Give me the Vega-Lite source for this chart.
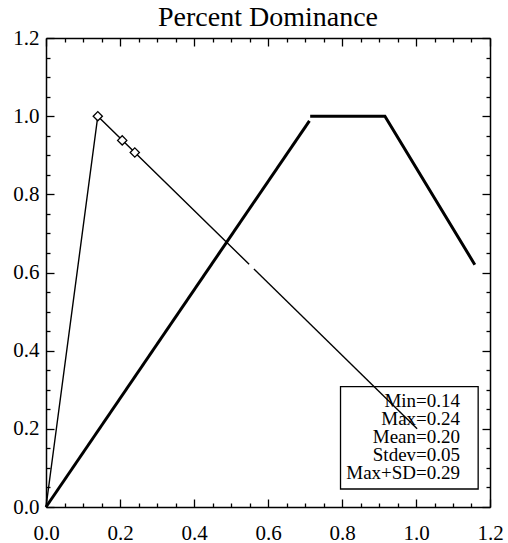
{
  "$schema": "https://vega.github.io/schema/vega-lite/v6.json",
  "autosize": "none",
  "width": 444,
  "height": 469,
  "padding": {"left": 46, "top": 38, "right": 18, "bottom": 36},
  "background": "white",
  "title": {"text": "Percent Dominance", "fontSize": 28, "font": "Liberation Serif", "fontWeight": "normal", "color": "black", "anchor": "middle", "frame": "group", "baseline": "bottom", "offset": -33},
  "config": {"view": {"stroke": null}, "font": "Liberation Serif"},
  "datasets": {
    "lines": [
      {"series": "thin", "seg": "a", "x": 0.0, "y": 0.0},
      {"series": "thin", "seg": "a", "x": 0.14, "y": 1.0},
      {"series": "thin", "seg": "a", "x": 0.549, "y": 0.621},
      {"series": "thin", "seg": "b", "x": 0.562, "y": 0.609},
      {"series": "thin", "seg": "b", "x": 1.003, "y": 0.2},
      {"series": "thick", "seg": "c", "x": 0.0, "y": 0.0},
      {"series": "thick", "seg": "c", "x": 0.712, "y": 0.988},
      {"series": "thick", "seg": "d", "x": 0.714, "y": 1.0},
      {"series": "thick", "seg": "d", "x": 0.916, "y": 1.0},
      {"series": "thick", "seg": "d", "x": 1.159, "y": 0.62}
    ],
    "points": [
      {"stat": "Min", "x": 0.14, "y": 1.0},
      {"stat": "Mean", "x": 0.206, "y": 0.938},
      {"stat": "Max", "x": 0.24, "y": 0.907}
    ],
    "box": [{"x": 0.796, "x2": 1.168, "y": 0.046, "y2": 0.308}],
    "legend": [
      {"label": "Min=0.14", "x": 1.119, "y": 0.272},
      {"label": "Max=0.24", "x": 1.119, "y": 0.225},
      {"label": "Mean=0.20", "x": 1.119, "y": 0.178},
      {"label": "Stdev=0.05", "x": 1.119, "y": 0.132},
      {"label": "Max+SD=0.29", "x": 1.119, "y": 0.086}
    ]
  },
  "resolve": {"axis": {"x": "independent", "y": "independent"}},
  "layer": [
    {
      "data": {"name": "box"},
      "mark": {"type": "rect", "fill": "white", "stroke": "black", "strokeWidth": 1.3},
      "encoding": {
        "x": {"field": "x", "type": "quantitative", "scale": {"domain": [0, 1.2], "nice": false}, "axis": {
          "orient": "bottom",
          "values": [0,0.05,0.1,0.15,0.2,0.25,0.3,0.35,0.4,0.45,0.5,0.55,0.6,0.65,0.7,0.75,0.8,0.85,0.9,0.95,1.0,1.05,1.1,1.15,1.2],
          "tickSize": {"condition": {"test": "abs(datum.value*5-round(datum.value*5))<0.01", "value": -8}, "value": -4},
          "labelExpr": "abs(datum.value*5-round(datum.value*5))<0.01 ? format(datum.value,'.1f') : ''",
          "labelPadding": 23, "labelFlush": false, "labelOverlap": false,
          "labelFont": "Liberation Serif", "labelFontSize": 21, "labelColor": "black",
          "tickColor": "black", "tickWidth": 1.3, "domainColor": "black", "domainWidth": 1.5,
          "grid": false, "title": null
        }},
        "x2": {"field": "x2"},
        "y": {"field": "y", "type": "quantitative", "scale": {"domain": [0, 1.2], "nice": false}, "axis": {
          "orient": "left",
          "values": [0,0.05,0.1,0.15,0.2,0.25,0.3,0.35,0.4,0.45,0.5,0.55,0.6,0.65,0.7,0.75,0.8,0.85,0.9,0.95,1.0,1.05,1.1,1.15,1.2],
          "tickSize": {"condition": {"test": "abs(datum.value*5-round(datum.value*5))<0.01", "value": -8}, "value": -4},
          "labelExpr": "abs(datum.value*5-round(datum.value*5))<0.01 ? format(datum.value,'.1f') : ''",
          "labelPadding": 15, "labelFlush": false, "labelOverlap": false,
          "labelFont": "Liberation Serif", "labelFontSize": 21, "labelColor": "black",
          "tickColor": "black", "tickWidth": 1.3, "domainColor": "black", "domainWidth": 1.5,
          "grid": false, "title": null
        }},
        "y2": {"field": "y2"}
      }
    },
    {
      "data": {"name": "legend"},
      "mark": {"type": "text", "align": "right", "baseline": "middle", "font": "Liberation Serif", "fontSize": 19, "color": "black"},
      "encoding": {
        "x": {"field": "x", "type": "quantitative", "scale": {"domain": [0, 1.2], "nice": false}, "axis": {
          "orient": "top",
          "values": [0,0.05,0.1,0.15,0.2,0.25,0.3,0.35,0.4,0.45,0.5,0.55,0.6,0.65,0.7,0.75,0.8,0.85,0.9,0.95,1.0,1.05,1.1,1.15,1.2],
          "tickSize": {"condition": {"test": "abs(datum.value*5-round(datum.value*5))<0.01", "value": -8}, "value": -4},
          "labels": false,
          "tickColor": "black", "tickWidth": 1.3, "domainColor": "black", "domainWidth": 1.5,
          "grid": false, "title": null
        }},
        "y": {"field": "y", "type": "quantitative", "scale": {"domain": [0, 1.2], "nice": false}, "axis": {
          "orient": "right",
          "values": [0,0.05,0.1,0.15,0.2,0.25,0.3,0.35,0.4,0.45,0.5,0.55,0.6,0.65,0.7,0.75,0.8,0.85,0.9,0.95,1.0,1.05,1.1,1.15,1.2],
          "tickSize": {"condition": {"test": "abs(datum.value*5-round(datum.value*5))<0.01", "value": -8}, "value": -4},
          "labels": false,
          "tickColor": "black", "tickWidth": 1.3, "domainColor": "black", "domainWidth": 1.5,
          "grid": false, "title": null
        }},
        "text": {"field": "label"}
      }
    },
    {
      "data": {"name": "lines"},
      "mark": {"type": "line", "color": "black"},
      "encoding": {
        "x": {"field": "x", "type": "quantitative", "scale": {"domain": [0, 1.2], "nice": false}, "axis": null},
        "y": {"field": "y", "type": "quantitative", "scale": {"domain": [0, 1.2], "nice": false}, "axis": null},
        "detail": {"field": "seg"},
        "strokeWidth": {"field": "series", "type": "nominal", "scale": {"domain": ["thin", "thick"], "range": [1.4, 3]}, "legend": null},
        "order": {"field": "x", "type": "quantitative"}
      }
    },
    {
      "data": {"name": "points"},
      "mark": {"type": "point", "shape": "diamond", "filled": true, "fill": "white", "stroke": "black", "strokeWidth": 1.3, "size": 85, "opacity": 1},
      "encoding": {
        "x": {"field": "x", "type": "quantitative", "scale": {"domain": [0, 1.2], "nice": false}, "axis": null},
        "y": {"field": "y", "type": "quantitative", "scale": {"domain": [0, 1.2], "nice": false}, "axis": null}
      }
    }
  ]
}
